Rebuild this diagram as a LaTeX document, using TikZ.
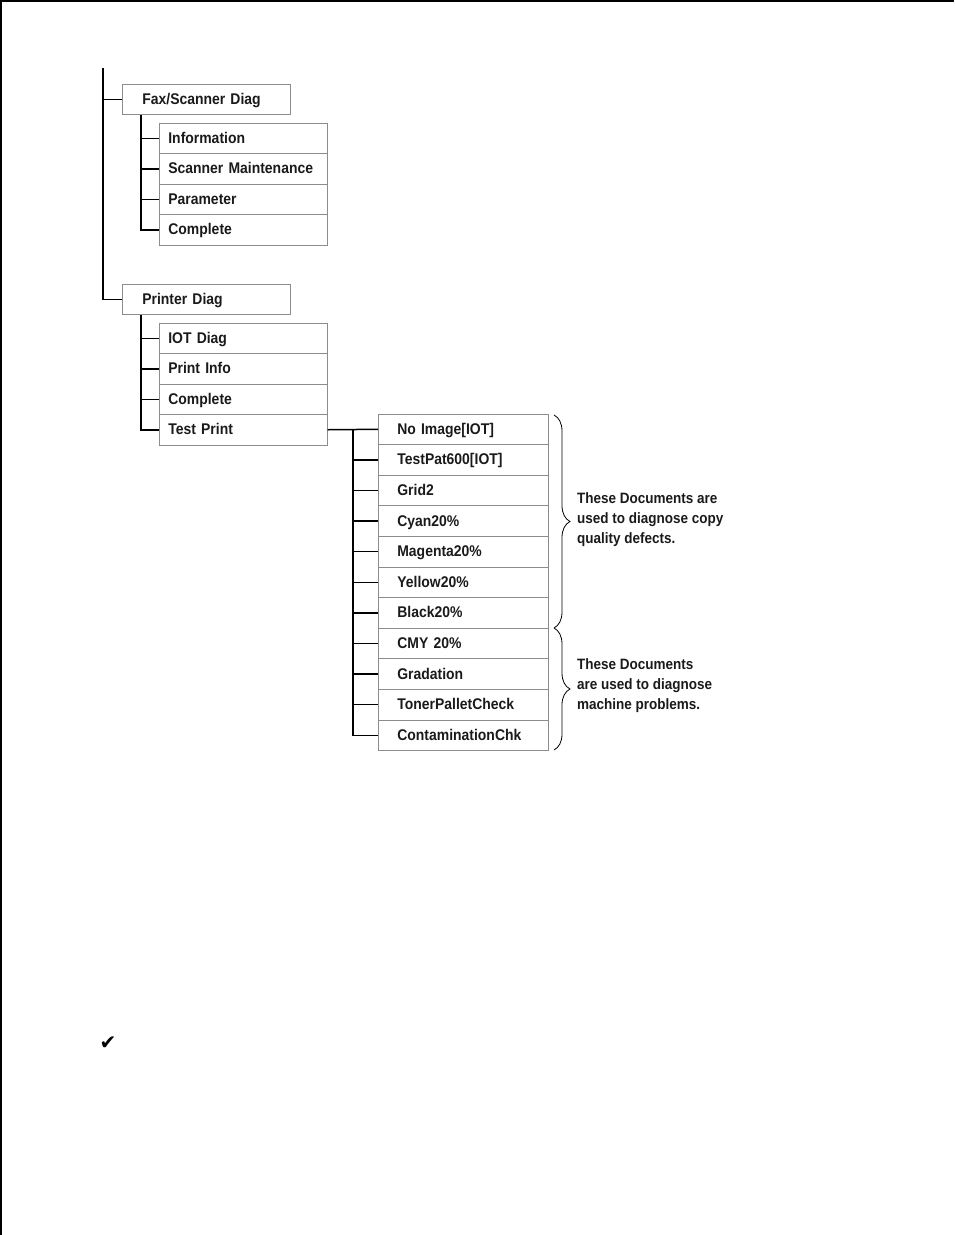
\documentclass[tikz,border=0pt]{standalone}
\usepackage{fontspec}
\setmainfont{Liberation Sans}[FakeStretch=0.9]
\newfontfamily\symfont{DejaVu Sans}
\usetikzlibrary{decorations.pathreplacing}
\definecolor{menuline}{HTML}{8C8C8C}
\definecolor{menutext}{HTML}{1A1A1A}

\begin{document}
\begin{tikzpicture}[
        x=1pt, y=-1pt,
        link/.style={draw=black, line width=1.5pt},
        menubox/.style={draw=menuline, line width=0.7pt, anchor=west,
          minimum height=30.5pt, align=left, text height=12pt, text depth=2pt,
          font=\fontsize{15.5}{18}\selectfont\bfseries, text=menutext},
        topbox/.style={menubox, inner xsep=20pt, text width=128pt},
        subbox/.style={menubox, inner xsep=9pt, text width=150pt},
        printbox/.style={menubox, minimum height=30.6pt, inner xsep=19pt, text width=132pt},
        note/.style={anchor=west, align=left, inner sep=0pt,
          font=\fontsize{15}{20}\selectfont\bfseries, text=menutext},
        curly/.style={draw=black, line width=0.8pt,
          decorate, decoration={brace, amplitude=16pt}},
      ]
      \useasboundingbox (0,0) rectangle (954,1235);

      % Page frame
      \draw[line width=2pt] (1,1235) -- (1,1) -- (954,1);

      % Fax/Scanner branch
      \node[topbox] (fax) at (122,99.5) {Fax/Scanner Diag};
      \node[subbox] (finfo) at (159,138.25) {Information};
      \node[subbox] (fscan) at (159,168.75) {Scanner Maintenance};
      \node[subbox] (fparam) at (159,199.25) {Parameter};
      \node[subbox] (fdone) at (159,229.75) {Complete};

      % Printer branch
      \node[topbox] (pdiag) at (122,299.5) {Printer Diag};
      \node[subbox] (piot) at (159,338.25) {IOT Diag};
      \node[subbox] (pinfo) at (159,368.75) {Print Info};
      \node[subbox] (pdone) at (159,399.25) {Complete};
      \node[subbox] (ptest) at (159,429.75) {Test Print};

      % Test print pages
      \node[printbox] (tnoimg) at (378,429.3) {No Image[IOT]};
      \node[printbox] (tpat) at (378,459.9) {TestPat600[IOT]};
      \node[printbox] (tgrid) at (378,490.5) {Grid2};
      \node[printbox] (tcyan) at (378,521.1) {Cyan20\%};
      \node[printbox] (tmag) at (378,551.7) {Magenta20\%};
      \node[printbox] (tyel) at (378,582.3) {Yellow20\%};
      \node[printbox] (tblk) at (378,612.9) {Black20\%};
      \node[printbox] (tcmy) at (378,643.5) {CMY 20\%};
      \node[printbox] (tgrad) at (378,674.1) {Gradation};
      \node[printbox] (tpal) at (378,704.7) {TonerPalletCheck};
      \node[printbox] (tcont) at (378,735.3) {ContaminationChk};

      % Tree stems
      \coordinate (trunk) at (103,68);
      \coordinate (fstem) at (141,115);
      \coordinate (pstem) at (141,315);
      \coordinate (tstem) at (353,429.5);

      \draw[link] (trunk) |- (fax.west);
      \draw[link] (trunk) |- (pdiag.west);

      \draw[link] (fstem) |- (finfo.west);
      \draw[link] (fstem) |- (fscan.west);
      \draw[link] (fstem) |- (fparam.west);
      \draw[link] (fstem) |- (fdone.west);

      \draw[link] (pstem) |- (piot.west);
      \draw[link] (pstem) |- (pinfo.west);
      \draw[link] (pstem) |- (pdone.west);
      \draw[link] (pstem) |- (ptest.west);

      \draw[link] (ptest.east) -- (tnoimg.west);
      \draw[link] (tstem) |- (tpat.west);
      \draw[link] (tstem) |- (tgrid.west);
      \draw[link] (tstem) |- (tcyan.west);
      \draw[link] (tstem) |- (tmag.west);
      \draw[link] (tstem) |- (tyel.west);
      \draw[link] (tstem) |- (tblk.west);
      \draw[link] (tstem) |- (tcmy.west);
      \draw[link] (tstem) |- (tgrad.west);
      \draw[link] (tstem) |- (tpal.west);
      \draw[link] (tstem) |- (tcont.west);

      % Braces and their notes
      \coordinate (copytop) at (554,415);
      \coordinate (copybot) at (554,628);
      \coordinate (machbot) at (554,750);
      \draw[curly] (copytop) -- (copybot);
      \draw[curly] (copybot) -- (machbot);

      \node[note] (copynote) at (577,519.5)
        {These Documents are\\used to diagnose copy\\quality defects.};
      \node[note] (machnote) at (577,686)
        {These Documents\\are used to diagnose\\machine problems.};

      % Check mark
      \node[font=\symfont\fontsize{20}{20}\selectfont] (tick) at (108,1043) {✔};
    \end{tikzpicture}
\end{document}
